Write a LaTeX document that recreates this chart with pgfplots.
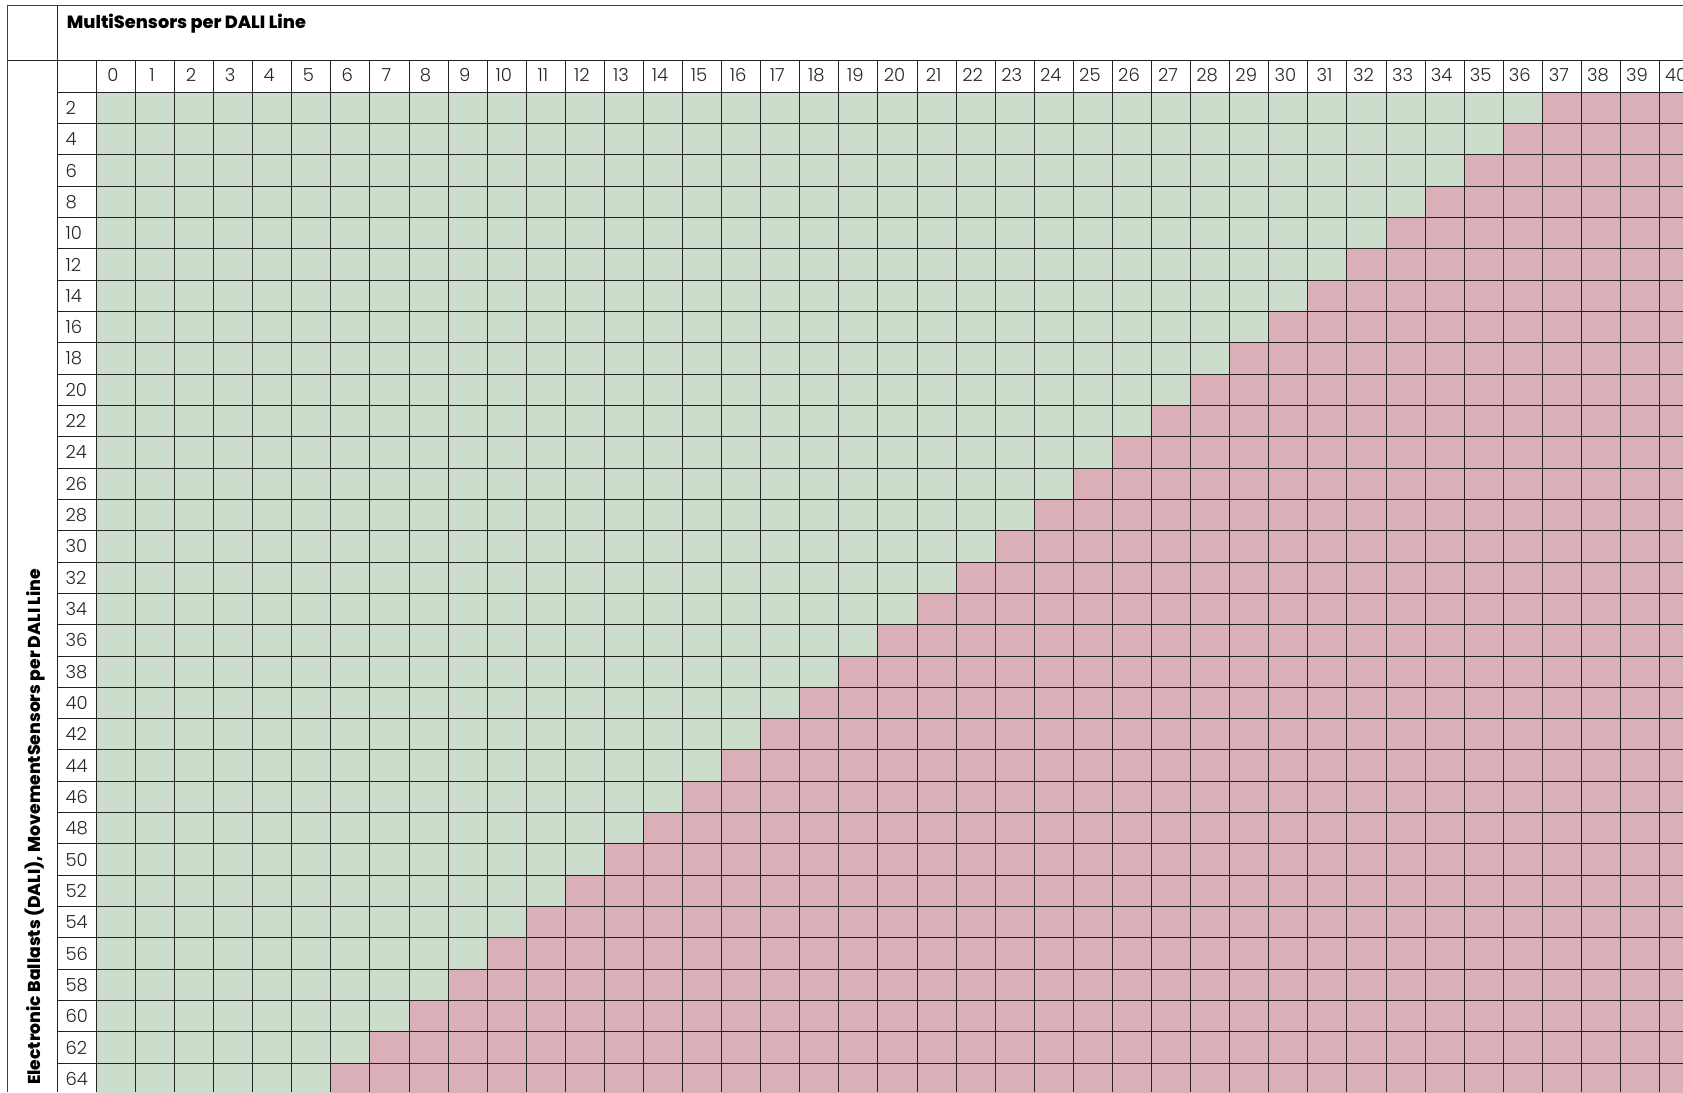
\documentclass[border=0pt]{standalone}
\usepackage{fontspec}
\setmainfont{Poppins}
\newfontfamily\lightfont{Poppins Light}
\newfontfamily\heavyfont{Poppins ExtraBold}
\usepackage{pgfplots}
\usepackage{pgfplotstable}
\pgfplotsset{compat=1.18}
\definecolor{okgreen}{RGB}{205,221,203}
\definecolor{nopink}{RGB}{219,175,184}
\definecolor{gridc}{RGB}{35,35,35}

% row = ballasts per line, ok = number of green cells (MultiSensors 0..ok-1), no = red cells to the right
\pgfplotstableread{
row ok no
2  37 45
4  36 45
6  35 45
8  34 45
10 33 45
12 32 45
14 31 45
16 30 45
18 29 45
20 28 45
22 27 45
24 26 45
26 25 45
28 24 45
30 23 45
32 22 45
34 21 45
36 20 45
38 19 45
40 18 45
42 17 45
44 16 45
46 15 45
48 14 45
50 13 45
52 12 45
54 11 45
56 10 45
58 9  45
60 8  45
62 7  45
64 6  45
}\datatable

\begin{document}
\begin{tikzpicture}
\useasboundingbox (0pt,0pt) rectangle (1683pt,-1092pt);
\clip (0pt,0pt) rectangle (1683pt,-1092pt);
\begin{axis}[
  at={(57.3pt,-60pt)}, anchor=north west,
  x=39.08pt, y=15.66pt,
  xmin=-1, xmax=40.6,
  ymin=-64.84, ymax=1.06,
  xbar stacked, bar width=2,
  axis on top,
  axis line style={draw=none},
  xtick={0.5,1.5,...,40.5},
  xticklabels={0,1,2,3,4,5,6,7,8,9,10,11,12,13,14,15,16,17,18,19,20,21,22,23,24,25,26,27,28,29,30,31,32,33,34,35,36,37,38,39,40},
  xticklabel pos=upper,
  ytick={-64,-62,...,-2},
  yticklabels={64,62,60,58,56,54,52,50,48,46,44,42,40,38,36,34,32,30,28,26,24,22,20,18,16,14,12,10,8,6,4,2},
  major tick length=0pt,
  minor tick length=0pt,
  minor xtick={0,1,...,41},
  minor ytick={-65,-63,...,-1},
  xminorgrids, yminorgrids,
  minor grid style={gridc, line width=1pt},
  tick label style={font=\lightfont\fontsize{18}{18}\selectfont, text=black!85, inner sep=0pt},
  x tick label style={anchor=base, yshift=-21pt, xshift=-3pt},
  y tick label style={anchor=base west, xshift=8pt, yshift=-6.5pt},
]
\addplot[draw=none, fill=okgreen] table[x=ok, y expr=-\thisrow{row}] {\datatable};
\addplot[draw=none, fill=nopink] table[x=no, y expr=-\thisrow{row}] {\datatable};
\end{axis}
\draw[black!75, line width=1pt] (7.3pt,-5.3pt) -- (1683pt,-5.3pt);
\draw[gridc, line width=1pt] (7.3pt,-60pt) -- (1683pt,-60pt);
\draw[black!75, line width=1pt] (7.3pt,-5.3pt) -- (7.3pt,-1092pt);
\draw[gridc, line width=1pt] (57.3pt,-5.3pt) -- (57.3pt,-1092pt);
\node[anchor=base west, inner sep=0pt, font=\heavyfont\fontsize{17.7}{17.7}\selectfont] at (66.7pt,-28.3pt) {MultiSensors per DALI Line};
\node[rotate=90, anchor=base west, inner sep=0pt, font=\heavyfont\fontsize{17.2}{17.2}\selectfont] at (40.5pt,-1085pt) {Electronic Ballasts (DALI), MovementSensors per DALI Line};
\end{tikzpicture}
\end{document}
